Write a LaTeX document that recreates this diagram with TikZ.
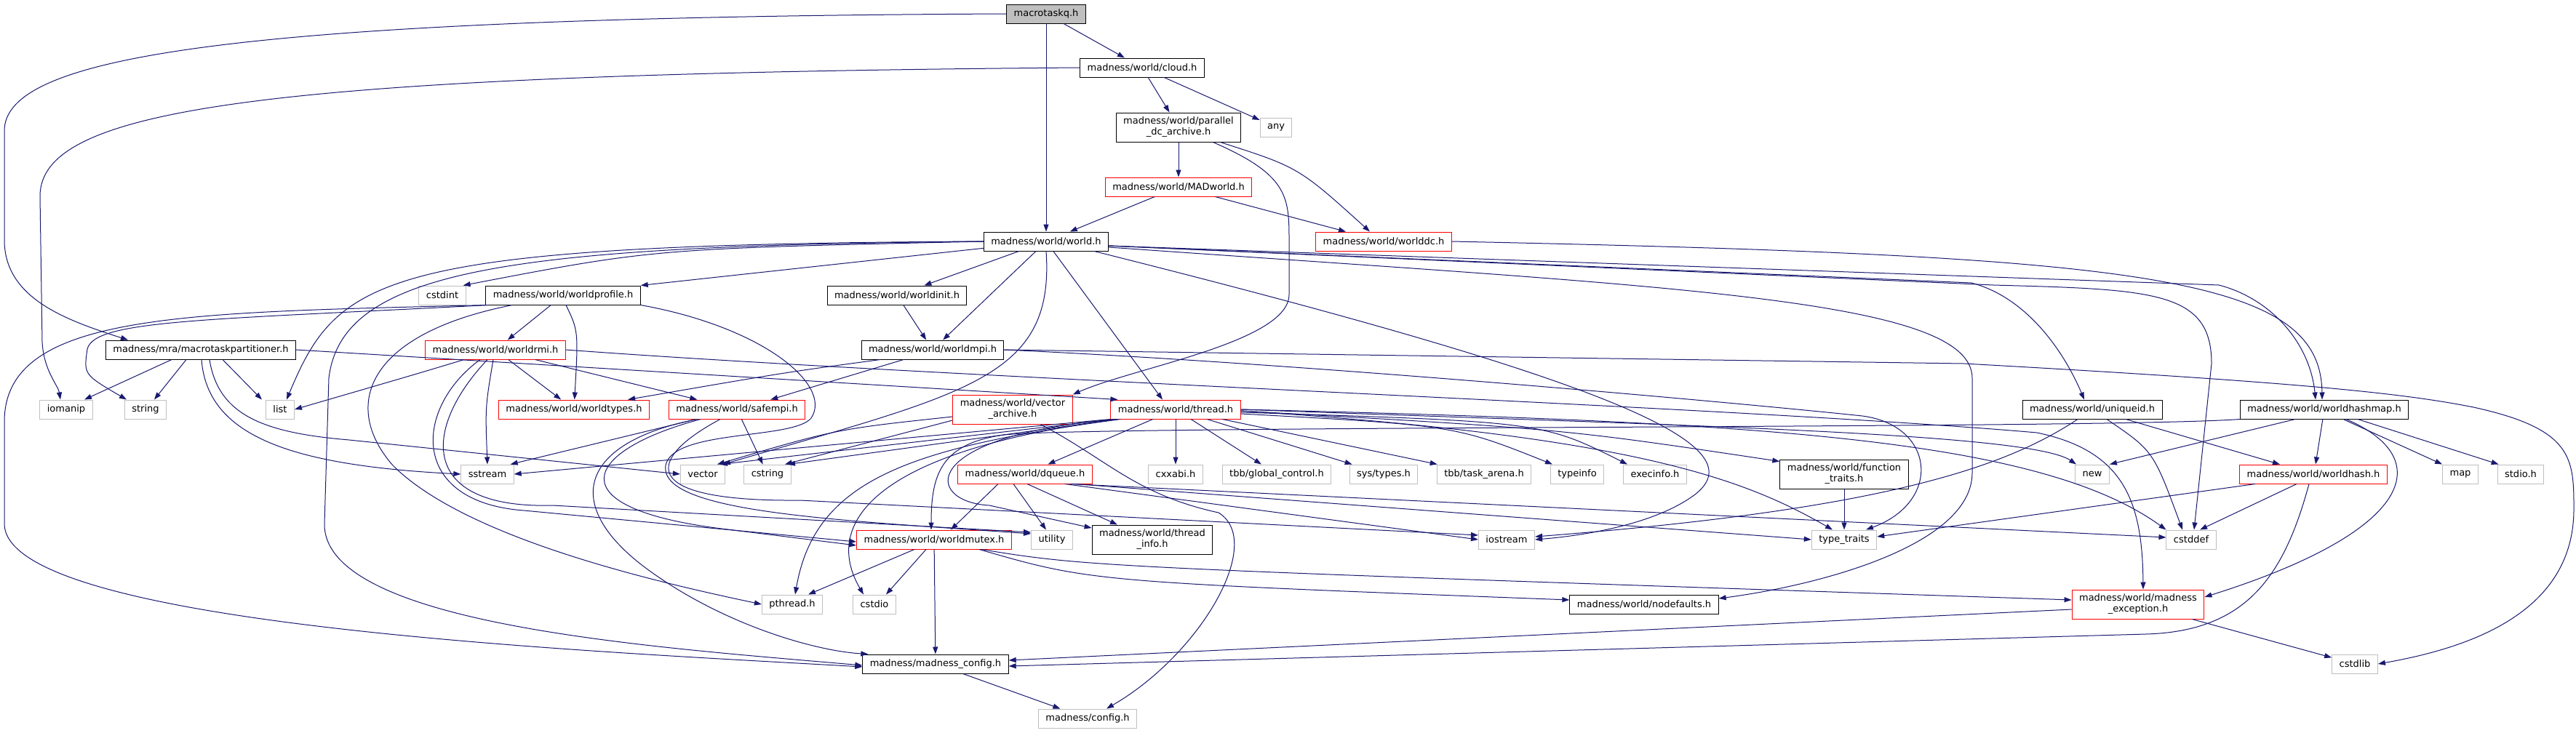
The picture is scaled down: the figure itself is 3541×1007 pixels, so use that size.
\documentclass[tikz,border=0pt]{standalone}
\usepackage{fontspec}
\setmainfont{DejaVu Sans}
\usetikzlibrary{arrows.meta}
\definecolor{edgeblue}{RGB}{25,25,112}
\definecolor{extgray}{RGB}{191,191,191}
\begin{document}
\begin{tikzpicture}[x=1pt,y=-1pt,>={Triangle[length=10pt,width=7pt]},
    incbox/.style={draw,line width=1pt,minimum height=26pt,inner xsep=10pt,inner ysep=0pt,
      align=center,fill=white,font=\fontsize{13}{15}\selectfont},
    blkbox/.style={incbox,draw=black},
    sysbox/.style={incbox,draw=extgray},
    redbox/.style={incbox,draw=red},
    rootbox/.style={incbox,draw=black,fill=extgray},
    twoline/.style={minimum height=40pt},
    dep/.style={->,draw=edgeblue,line width=1pt}]
    \fill[white] (0,0) rectangle (3541,1007);
    \useasboundingbox (0,0) rectangle (3541,1007);

    % Rows 0-4
    \node[rootbox] (mtq) at (1438,19) {macrotaskq.h};
    \node[blkbox] (cloud) at (1570,93) {madness/world/cloud.h};
    \node[blkbox,twoline] (pdca) at (1620,175) {madness/world/parallel\\\_dc\_archive.h};
    \node[sysbox] (any) at (1754,175) {any};
    \node[redbox] (madw) at (1620,257) {madness/world/MADworld.h};
    \node[blkbox] (world) at (1438,332) {madness/world/world.h};
    \node[redbox] (wdc) at (1902,332) {madness/world/worlddc.h};

    % Rows 5-6
    \node[sysbox] (cstdint) at (608,406) {cstdint};
    \node[blkbox] (wprof) at (774,406) {madness/world/worldprofile.h};
    \node[blkbox] (winit) at (1233,406) {madness/world/worldinit.h};
    \node[blkbox] (mtp) at (276,481) {madness/mra/macrotaskpartitioner.h};
    \node[redbox] (wrmi) at (681,481) {madness/world/worldrmi.h};
    \node[blkbox] (wmpi) at (1282,481) {madness/world/worldmpi.h};

    % Row 7
    \node[sysbox] (iomanip) at (91,563) {iomanip};
    \node[sysbox] (string) at (200,563) {string};
    \node[sysbox] (list) at (385,563) {list};
    \node[redbox] (wtypes) at (789,563) {madness/world/worldtypes.h};
    \node[redbox] (safempi) at (1013,563) {madness/world/safempi.h};
    \node[redbox,twoline] (varch) at (1392,563) {madness/world/vector\\\_archive.h};
    \node[redbox] (thread) at (1616,563) {madness/world/thread.h};
    \node[blkbox] (uniq) at (2876,563) {madness/world/uniqueid.h};
    \node[blkbox] (whmap) at (3195,563) {madness/world/worldhashmap.h};

    % Row 8
    \node[sysbox] (sstream) at (670,652) {sstream};
    \node[sysbox] (vector) at (966,652) {vector};
    \node[sysbox] (cstring) at (1055,652) {cstring};
    \node[redbox] (dqueue) at (1409,652) {madness/world/dqueue.h};
    \node[sysbox] (cxxabi) at (1616,652) {cxxabi.h};
    \node[sysbox] (tbbgc) at (1755,652) {tbb/global\_control.h};
    \node[sysbox] (systypes) at (1902,652) {sys/types.h};
    \node[sysbox] (tbbta) at (2040,652) {tbb/task\_arena.h};
    \node[sysbox] (typeinfo) at (2168,652) {typeinfo};
    \node[sysbox] (execinfo) at (2275,652) {execinfo.h};
    \node[blkbox,twoline] (ftraits) at (2535,652) {madness/world/function\\\_traits.h};
    \node[sysbox] (new) at (2876,652) {new};
    \node[redbox] (whash) at (3180,652) {madness/world/worldhash.h};
    \node[sysbox] (map) at (3382,652) {map};
    \node[sysbox] (stdioh) at (3465,652) {stdio.h};

    % Rows 9-12
    \node[redbox] (wmutex) at (1284,742) {madness/world/worldmutex.h};
    \node[sysbox] (utility) at (1446,742) {utility};
    \node[blkbox,twoline] (tinfo) at (1584,742) {madness/world/thread\\\_info.h};
    \node[sysbox] (iostream) at (2071,742) {iostream};
    \node[sysbox] (typetr) at (2535,742) {type\_traits};
    \node[sysbox] (cstddef) at (3012,742) {cstddef};
    \node[sysbox] (pthread) at (1089,831) {pthread.h};
    \node[sysbox] (cstdio) at (1202,831) {cstdio};
    \node[blkbox] (nodef) at (2260,831) {madness/world/nodefaults.h};
    \node[redbox,twoline] (mexc) at (2939,831) {madness/world/madness\\\_exception.h};
    \node[blkbox] (mconf) at (1286,913) {madness/madness\_config.h};
    \node[sysbox] (cstdlib) at (3237,913) {cstdlib};
    \node[sysbox] (config) at (1495,988) {madness/config.h};

    % macrotaskq.h, cloud.h, parallel_dc_archive.h, MADworld.h, worlddc.h
    \draw[dep] (mtq) -- (cloud);
    \draw[dep] (mtq) -- (world);
    \draw[dep] (mtq.west) .. controls (300,24) and (6,80) .. (6,180) -- (6,330)
        .. controls (6,410) and (90,440) .. ([xshift=-100pt]mtp.north);
    \draw[dep] (cloud) -- (pdca);
    \draw[dep] (cloud) -- (any);
    \draw[dep] (cloud.west) .. controls (350,102) and (55,150) .. (55,270) -- (58,470)
        .. controls (60,510) and (80,530) .. ([xshift=-8pt]iomanip.north);
    \draw[dep] (pdca) -- (madw);
    \draw[dep] ([xshift=-29pt]pdca.south east) .. controls (1785,230) .. ([xshift=-19pt]wdc.north);
    \draw[dep] ([xshift=-39pt]pdca.south east) .. controls (1770,240) and (1772,270) .. (1772,330) -- (1772,405)
        .. controls (1772,470) and (1560,505) .. (varch.north east);
    \draw[dep] (madw) -- (world);
    \draw[dep] (madw) -- ([xshift=-52pt]wdc.north);
    \draw[dep] (wdc.east) .. controls (2950,352) and (3190,380) .. ([xshift=-3pt]whmap.north);

    % world.h
    \draw[dep] (world.west) .. controls (900,342) .. ([xshift=-4pt]cstdint.north east);
    \draw[dep] (world) -- (wprof.north east);
    \draw[dep] (world) -- (winit);
    \draw[dep] (world) -- (wmpi);
    \draw[dep] (world.west) .. controls (520,336) and (465,380) .. ([xshift=9pt]list.north);
    \draw[dep] (world.west) .. controls (700,338) and (470,370) .. (452,520) -- (446,720)
        .. controls (444,860) and (900,890) .. ([yshift=-2pt]mconf.west);
    \draw[dep] (world) -- ([xshift=-18pt]thread.north);
    \draw[dep] (world.south) .. controls (1450,520) and (1330,540) .. ([xshift=28pt]vector.north);
    \draw[dep] ([xshift=-20pt]world.south east) .. controls (2200,520) and (2420,610) .. (2330,680)
        .. controls (2270,725) and (2160,738) .. (iostream.east);
    \draw[dep] ([yshift=-6pt]world.east) -- (2710,389) .. controls (2790,410) and (2840,490) .. ([xshift=-11pt]uniq.north);
    \draw[dep] ([yshift=-6pt]world.east) -- (2740,392) .. controls (2960,398) and (3040,400) .. (3040,500)
        -- ([xshift=4pt]cstddef.north);
    \draw[dep] ([yshift=-6pt]world.east) -- (3050,392) .. controls (3120,410) and (3175,470) .. ([xshift=-12pt]whmap.north);
    \draw[dep] ([yshift=-8pt]world.east) .. controls (2300,395) and (2711,410) .. (2711,520) -- (2711,650)
        .. controls (2711,750) and (2500,805) .. ([yshift=8pt]nodef.east);

    % worldinit.h, worldprofile.h
    \draw[dep] (winit) -- (wmpi);
    \draw[dep] (wprof) -- (wrmi);
    \draw[dep] ([xshift=4pt]wprof.south) .. controls (795,455) .. (wtypes);
    \draw[dep] ([xshift=4pt]wprof.south west) .. controls (280,440) and (130,440) .. (120,480)
        .. controls (115,515) .. ([xshift=-26pt]string.north);
    \draw[dep] ([xshift=2pt]wprof.south west) .. controls (250,430) and (6,430) .. (6,580) -- (6,720)
        .. controls (6,860) and (800,895) .. ([yshift=-4pt]mconf.west);
    \draw[dep] ([xshift=-70pt]wprof.south) .. controls (500,460) and (470,560) .. (540,640)
        .. controls (640,740) and (900,800) .. (pthread.west);
    \draw[dep] (wprof.south east) .. controls (1050,450) and (1145,530) .. (1115,575)
        .. controls (1090,605) and (925,590) .. (915,640) .. controls (905,705) and (1150,715) .. ([yshift=8pt]utility.west);

    % macrotaskpartitioner.h
    \draw[dep] ([xshift=-40pt]mtp.south) -- ([xshift=25pt]iomanip.north);
    \draw[dep] ([xshift=-20pt]mtp.south) -- ([xshift=12pt]string.north);
    \draw[dep] ([xshift=30pt]mtp.south) -- ([xshift=-25pt]list.north);
    \draw[dep] ([xshift=1pt]mtp.south) .. controls (285,600) and (400,640) .. (sstream.west);
    \draw[dep] ([xshift=12pt]mtp.south) .. controls (300,570) and (360,595) .. (480,605) -- (vector.west);
    \draw[dep] (mtp.east) -- ([xshift=10pt]thread.north west);

    % worldrmi.h
    \draw[dep] ([xshift=-43pt]wrmi.south) .. controls (570,515) .. (list.east);
    \draw[dep] (wrmi) -- (wtypes);
    \draw[dep] ([xshift=-3pt]wrmi.south) .. controls (667,560) .. (sstream.north);
    \draw[dep] (wrmi) -- (safempi);
    \draw[dep] ([xshift=-21pt]wrmi.south) .. controls (570,560) and (560,690) .. (720,702) -- ([yshift=-3pt]wmutex.west);
    \draw[dep] ([xshift=-11pt]wrmi.south) .. controls (580,590) and (575,700) .. (760,695) -- ([yshift=10pt]utility.west);
    \draw[dep] (wrmi.east) .. controls (1300,520) and (2400,560) .. (2800,595)
        .. controls (2920,620) and (2945,690) .. ([xshift=7pt]mexc.north);

    % worldmpi.h
    \draw[dep] ([xshift=-40pt]wmpi.south) -- ([xshift=-48pt]safempi.north east);
    \draw[dep] ([xshift=-72pt]wmpi.south) .. controls (1080,512) .. ([xshift=-30pt]wtypes.north east);
    \draw[dep] (wmpi.east) -- (2700,500) .. controls (3150,525) and (3300,540) .. (3400,560)
        .. controls (3537,590) and (3538,630) .. (3538,700) .. controls (3538,840) and (3400,890) .. (cstdlib.east);
    \draw[dep] (wmpi.east) .. controls (1800,500) and (2400,555) .. (2560,572)
        .. controls (2660,585) and (2670,690) .. ([xshift=30pt]typetr.north);

    % thread.h
    \draw[dep] (thread) -- (dqueue);
    \draw[dep] (thread) -- (cxxabi);
    \draw[dep] (thread) -- (tbbgc);
    \draw[dep] (thread) -- (systypes);
    \draw[dep] (thread) -- (tbbta);
    \draw[dep] ([yshift=-6pt]thread.east) .. controls (2000,585) .. ([xshift=-34pt]typeinfo.north);
    \draw[dep] ([yshift=-4pt]thread.east) .. controls (2120,580) .. ([xshift=-38pt]execinfo.north);
    \draw[dep] (thread.east) .. controls (2300,585) and (2790,595) .. ([xshift=-22pt]new.north);
    \draw[dep] (thread.east) .. controls (2400,580) and (2800,600) .. (cstddef.north west);
    \draw[dep] ([yshift=-2pt]thread.east) .. controls (2150,590) .. ([yshift=-3pt]ftraits.north west);
    \draw[dep] ([yshift=-2pt]thread.east) .. controls (2250,600) and (2400,660) .. ([xshift=-16pt]typetr.north);
    \draw[dep] (thread.south west) -- (sstream.east);
    \draw[dep] ([xshift=6pt]thread.south west) -- ([xshift=24pt]vector.north);
    \draw[dep] ([xshift=10pt]thread.south west) -- ([xshift=28pt]cstring.north);
    \draw[dep] ([xshift=14pt]thread.south west) .. controls (1250,615) and (1120,660) .. ([xshift=4pt]pthread.north);
    \draw[dep] ([xshift=10pt]thread.south west) .. controls (1200,620) and (1130,720) .. ([xshift=-15pt]cstdio.north);
    \draw[dep] ([xshift=6pt]thread.south west) .. controls (1260,600) and (1270,690) .. (1360,695)
        -- ([yshift=16pt]tinfo.west);

    % vector_archive.h, dqueue.h
    \draw[dep] ([yshift=-10pt]varch.west) .. controls (1150,590) .. ([xshift=20pt]vector.north);
    \draw[dep] ([yshift=-15pt]varch.west) -- ([xshift=24pt]cstring.north);
    \draw[dep] ([xshift=38pt]varch.south) .. controls (1520,630) and (1560,680) .. (1675,705)
        .. controls (1740,745) and (1650,900) .. ([xshift=26pt]config.north);
    \draw[dep] ([xshift=-37pt]dqueue.south) -- ([xshift=23pt]wmutex.north);
    \draw[dep] ([xshift=-16pt]dqueue.south) -- ([xshift=-8pt]utility.north);
    \draw[dep] ([xshift=3pt]dqueue.south) -- ([xshift=-48pt]tinfo.north);
    \draw[dep] ([xshift=-38pt]dqueue.south east) -- (iostream.west);
    \draw[dep] ([xshift=-30pt]dqueue.south east) -- ([yshift=3pt]cstddef.west);
    \draw[dep] ([xshift=-24pt]dqueue.south east) -- (typetr.west);

    % safempi.h
    \draw[dep] ([xshift=-56pt]safempi.south) -- ([xshift=-5pt]sstream.north east);
    \draw[dep] (safempi) -- (cstring);
    \draw[dep] ([xshift=-55pt]safempi.south) .. controls (790,610) and (770,700) .. (900,790)
        .. controls (1000,860) and (1120,895) .. ([xshift=8pt]mconf.north west);
    \draw[dep] ([xshift=-50pt]safempi.south) .. controls (800,620) and (760,700) .. (1000,728) -- ([yshift=-8pt]wmutex.west);
    \draw[dep] ([xshift=-23pt]safempi.south) .. controls (890,630) and (870,690) .. (1100,688) -- ([yshift=6pt]iostream.west);

    % worldmutex.h, madness_config.h, madness_exception.h
    \draw[dep] ([xshift=-27pt]wmutex.south) -- ([xshift=22pt]pthread.north);
    \draw[dep] ([xshift=-11pt]wmutex.south) -- ([xshift=16pt]cstdio.north);
    \draw[dep] (wmutex) -- (mconf);
    \draw[dep] ([xshift=-45pt]wmutex.south east) .. controls (1500,800) .. ([yshift=6pt]nodef.west);
    \draw[dep] ([xshift=-42pt]wmutex.south east) .. controls (1500,780) .. ([yshift=6pt]mexc.west);
    \draw[dep] (mconf) -- (config);
    \draw[dep] (mexc) -- (cstdlib);
    \draw[dep] ([yshift=-7pt]mexc.west) -- ([yshift=5pt]mconf.east);

    % worldhash.h, worldhashmap.h, uniqueid.h
    \draw[dep] ([xshift=-6pt]whash.south) .. controls (3140,790) and (3090,868) .. (2950,872) -- ([yshift=-3pt]mconf.east);
    \draw[dep] ([xshift=-80pt]whash.south) -- ([yshift=4pt]typetr.east);
    \draw[dep] ([xshift=-23pt]whash.south) -- ([xshift=12pt]cstddef.north);
    \draw[dep] ([xshift=-40pt]whmap.south) -- (new.north east);
    \draw[dep] (whmap) -- ([xshift=3pt]whash.north);
    \draw[dep] ([xshift=26pt]whmap.south) -- (map.north west);
    \draw[dep] ([xshift=46pt]whmap.south) -- ([xshift=2pt]stdioh.north west);
    \draw[dep] ([xshift=30pt]whmap.south) .. controls (3350,630) and (3320,730) .. ([yshift=10pt]mexc.east);
    \draw[dep] (whmap.south west) .. controls (2900,590) and (1500,585) .. (1380,598)
        .. controls (1295,610) and (1280,650) .. ([xshift=-4pt]wmutex.north);
    \draw[dep] ([xshift=-20pt]uniq.south) .. controls (2760,640) and (2600,700) .. ([yshift=4pt]iostream.east);
    \draw[dep] ([xshift=20pt]uniq.south) .. controls (2960,620) .. ([xshift=-12pt]cstddef.north);
    \draw[dep] (uniq) -- (whash);
    \draw[dep] (ftraits) -- (typetr);
\end{tikzpicture}
\end{document}
